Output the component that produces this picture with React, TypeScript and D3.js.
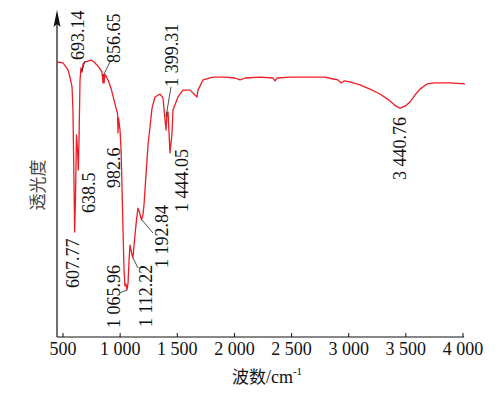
import React from "react";
import * as d3 from "d3";

// spectrum (wavenumber, transmittance %)
const waveNumbers = [
  447.5, 500, 544, 561, 579, 587, 596, 602, 609, 618, 627, 634, 640, 649, 657, 666, 675, 692,
  719, 745, 771, 797, 824, 841, 850, 855, 860, 867, 894, 920, 946, 964, 977, 981, 986, 999,
  1008, 1016, 1025, 1034, 1042, 1051, 1060, 1069, 1078, 1086, 1095, 1104, 1112, 1126, 1143,
  1156, 1169, 1187, 1200, 1209, 1226, 1244, 1261, 1279, 1305, 1349, 1375, 1401, 1410, 1419,
  1436, 1454, 1462, 1506, 1550, 1611, 1655, 1673, 1681, 1725, 1812, 1918, 2005, 2049, 2093,
  2224, 2338, 2355, 2373, 2486, 2661, 2793, 2863, 2906, 2933, 2959, 3011, 3099, 3186, 3274,
  3361, 3414, 3449, 3493, 3536, 3580, 3624, 3685, 3755, 3886, 4017,
];
const transmittance = [
  84.1, 83.8, 81.7, 79.5, 76.5, 69.4, 48.0, 32.1, 41.9, 61.8, 57.2, 51.1, 60.2, 78.6, 82.3, 81.0, 83.5, 84.1,
  84.4, 84.7, 84.1, 83.2, 82.0, 81.0, 77.7, 80.1, 77.7, 80.4, 78.6, 76.1, 72.5, 70.0, 68.5, 62.4, 67.0, 63.3,
  57.2, 46.5, 32.7, 20.5, 15.6, 16.2, 14.4, 16.5, 23.5, 28.1, 26.6, 25.1, 24.2, 29.7, 35.8,
  39.4, 38.2, 35.8, 37.5, 40.5, 49.5, 58.7, 64.2, 70.0, 73.4, 74.3, 73.1, 63.3, 68.5, 68.8,
  56.3, 62.4, 69.4, 73.4, 75.5, 75.5, 74.0, 73.4, 75.5, 78.6, 79.5, 79.5, 79.2, 78.6, 79.2,
  79.5, 79.2, 78.3, 79.2, 79.5, 79.5, 79.5, 78.9, 78.6, 77.7, 78.3, 78.0, 77.1, 75.8, 74.3,
  72.2, 70.6, 70.0, 70.6, 71.9, 74.0, 75.8, 77.4, 77.7, 77.7, 77.4,
];

const xTicks = [500, 1000, 1500, 2000, 2500, 3000, 3500, 4000];

const peakLabels = [
  "693.14", "856.65", "1 399.31", "638.5", "982.6", "1 444.05",
  "607.77", "1 192.84", "1 112.22", "1 065.96", "3 440.76",
];
// where each rotated label starts, in data units (wavenumber, %)
const labelAnchors = [
  [683.75, 84.7], [998.75, 83.8], [1506, 76.5], [780, 37.9], [998.75, 45.6], [1594, 38.2],
  [640, 15.0], [1419, 21.1], [1279, 3.06], [998.75, 2.75], [3501, 48.0],
];
// leader lines: [wn1, t1, wn2, t2]
const leaders = [
  [666, 81.3, 692.5, 84.4],
  [850, 79.8, 911, 84.1],
  [1401, 67.3, 1445, 76.5],
  [1191, 35.8, 1287.5, 31.8],
  [1112.5, 24.2, 1156, 21.1],
  [1060, 14.4, 999, 13.5],
];

const SERIF = '"Liberation Serif", "Times New Roman", serif';
const CJK = '"Noto Sans CJK SC", sans-serif';

const x = d3.scaleLinear().domain([500, 4000]).range([63, 463]);
const y = d3.scaleLinear().domain([0, 100]).range([337, 10]);
const fmt = d3.formatLocale({ decimal: ".", thousands: " ", grouping: [3], currency: ["", ""] }).format(",");

export default function App() {
  document.body.style.margin = "0";
  const x0 = x(447.5);
  const top = y(100);
  const pts = waveNumbers.map((w, i) => [w, transmittance[i]] as [number, number]);
  const line = d3.line<[number, number]>().x(d => x(d[0])).y(d => y(d[1]));

  return (
    <svg width={502} height={397} style={{ display: "block", fontFamily: SERIF }}>
      {/* x axis */}
      <line x1={x0} x2={x(4000) + 1} y1={y(0)} y2={y(0)} stroke="#111" strokeWidth={1.2} />
      {xTicks.map(t => (
        <g key={t} transform={`translate(${x(t)},${y(0)})`}>
          <line y2={-4} stroke="#111" />
          <text y={18} textAnchor="middle" fill="#111" style={{ fontFamily: SERIF, fontSize: "18px" }}>{fmt(t)}</text>
        </g>
      ))}
      {/* y axis with arrow */}
      <line x1={x0} x2={x0} y1={y(0)} y2={top + 8} stroke="#111" strokeWidth={1.2} />
      <path d={`M${x0},${top} L${x0 - 3.5},${top + 17} L${x0},${top + 14} L${x0 + 3.5},${top + 17} Z`} fill="#111" />

      <path d={line(pts) ?? ""} fill="none" stroke="#ee1c25" strokeWidth={1.3} strokeLinejoin="round" />

      {leaders.map((d, i) => (
        <line key={i} x1={x(d[0])} y1={y(d[1])} x2={x(d[2])} y2={y(d[3])} stroke="#222" strokeWidth={0.8} />
      ))}
      {peakLabels.map((p, i) => (
        <text key={p} transform={`translate(${x(labelAnchors[i][0])},${y(labelAnchors[i][1])}) rotate(-90)`}
          fill="#111" style={{ fontFamily: SERIF, fontSize: "18px" }}>{p}</text>
      ))}

      <text x={267} y={383} textAnchor="middle" fill="#111" style={{ fontFamily: SERIF, fontSize: "18px" }}>
        <tspan style={{ fontFamily: CJK, fontSize: "17px" }}>波数</tspan>
        <tspan>/cm</tspan>
        <tspan dy={-8} style={{ fontSize: "11px" }}>-1</tspan>
      </text>
      <text transform="translate(44,185) rotate(-90)" textAnchor="middle" fill="#444"
        style={{ fontFamily: CJK, fontSize: "17px" }}>透光度</text>
    </svg>
  );
}
